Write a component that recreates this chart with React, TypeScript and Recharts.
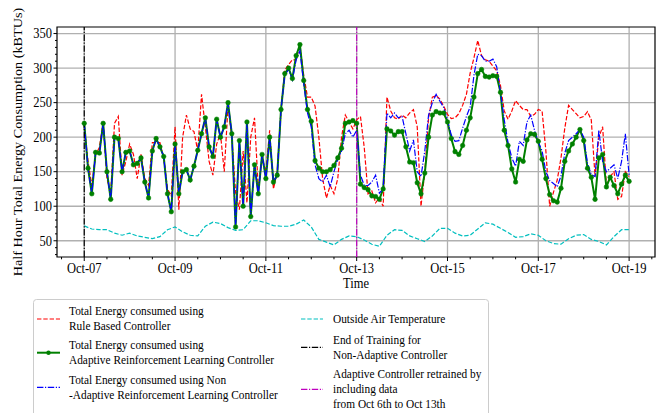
import React from "react";
import {
  LineChart,
  Line,
  XAxis,
  YAxis,
  CartesianGrid,
  ReferenceLine,
  ReferenceArea,
} from "recharts";

const FONT = "Liberation Serif, Tinos, 'Times New Roman', 'Nimbus Roman', 'DejaVu Serif', serif";
const SQUEEZE = 0.88; // the original figure is a little narrower than its text
const LEGEND_SQUEEZE = 0.86;

// two-hourly samples from Oct-07 00:00 to Oct-19 00:00 (kBTUs)
const ruleBased = [
  215, 165, 130, 175, 185, 222, 140, 120, 220, 230, 145, 165, 190, 175, 140, 175,
  140, 130, 192, 192, 192, 170, 125, 115, 215, 95, 200, 232, 212, 208, 180, 262,
  215, 165, 145, 190, 205, 150, 245, 200, 120, 95, 180, 105, 200, 228, 125, 170,
  150, 210, 125, 150, 240, 297, 305, 312, 312, 333, 290, 258, 258, 245, 200, 140,
  112, 130, 118, 140, 200, 232, 222, 212, 225, 230, 185, 118, 122, 105, 112, 100,
  258, 238, 228, 226, 232, 228, 235, 240, 215, 100, 150, 228, 258, 260, 255, 245,
  233, 227, 228, 234, 246, 262, 293, 315, 340, 318, 312, 310, 303, 296, 275, 238,
  226, 238, 253, 246, 240, 240, 230, 233, 240, 238, 180, 100, 120, 138, 170, 213,
  246, 240, 234, 228, 230, 237, 225, 143, 200, 215, 130, 143, 150, 110, 114, 150,
  143,
];

const adaptive = [
  220, 155, 118, 178, 177, 220, 150, 110, 200, 198, 150, 178, 180, 160, 162, 170,
  135, 112, 180, 198, 186, 172, 118, 92, 190, 118, 150, 153, 138, 158, 181, 205,
  228, 186, 172, 226, 200, 215, 250, 205, 70, 195, 100, 222, 85, 160, 118, 175,
  140, 200, 135, 145, 240, 292, 300, 285, 318, 334, 282, 240, 223, 166, 155, 150,
  150, 153, 159, 170, 184, 220, 222, 224, 220, 132, 127, 124, 115, 114, 110, 125,
  212, 209, 203, 208, 208, 186, 164, 163, 134, 118, 148, 200, 232, 237, 235, 235,
  222, 198, 179, 175, 188, 210, 228, 258, 292, 298, 288, 287, 289, 288, 265, 210,
  188, 154, 135, 168, 165, 196, 205, 204, 194, 168, 140, 117, 108, 106, 126, 165,
  180, 190, 200, 211, 195, 155, 142, 110, 170, 175, 128, 142, 130, 118, 132, 145,
  136,
];

const nonAdaptive = [
  220, 155, 118, 178, 177, 220, 150, 110, 200, 198, 150, 178, 180, 160, 162, 170,
  135, 112, 180, 198, 186, 172, 118, 92, 190, 118, 150, 153, 138, 158, 181, 205,
  228, 186, 172, 226, 200, 215, 250, 205, 70, 195, 100, 222, 85, 160, 118, 175,
  140, 200, 135, 145, 240, 290, 298, 283, 312, 325, 278, 235, 215, 160, 140, 135,
  145, 128, 150, 168, 180, 205, 210, 200, 210, 145, 130, 130, 135, 145, 119, 125,
  235, 228, 235, 228, 230, 205, 180, 196, 150, 143, 180, 232, 250, 262, 252, 243,
  225, 203, 194, 195, 213, 230, 244, 290, 320, 318, 310, 310, 313, 302, 265, 225,
  192, 170, 158, 194, 188, 222, 232, 210, 193, 180, 150, 137, 133, 128, 144, 177,
  195, 200, 205, 211, 200, 162, 146, 143, 210, 165, 150, 155, 160, 140, 165, 205,
  145,
];

// four-hourly outside air temperature
const outsideAir = [
  71.5, 67, 66, 66, 61, 58, 61, 57, 55, 53, 56, 66, 70, 63, 58, 57, 71, 77, 75, 69,
  65, 66, 79, 79, 76, 72, 71, 71, 74, 80, 70, 52, 48, 44, 52, 57, 56, 51, 45, 42,
  58, 66, 65, 57, 53, 49, 57, 68, 68, 61, 57, 58, 67, 76, 74, 68, 62, 55, 56, 60,
  58, 50, 46, 45, 53, 58, 59, 52, 49, 44, 56, 66, 66,
];

const X_MAJOR = [0, 2, 4, 6, 8, 10, 12];
const X_LABELS = ["Oct-07", "Oct-09", "Oct-11", "Oct-13", "Oct-15", "Oct-17", "Oct-19"];
const X_TICKS = Array.from({ length: 27 }, (_, k) => -0.5 + k * 0.5);
const Y_MAJOR = [50, 100, 150, 200, 250, 300, 350];
const Y_TICKS = Array.from({ length: 33 }, (_, k) => 30 + k * 10);

const END_OF_TRAINING = 0;
const RETRAINED = 6;

const data = adaptive.map((v, i) => ({
  t: i / 12,
  rule: ruleBased[i],
  adaptive: v,
  nonAdaptive: nonAdaptive[i],
  oat: i % 2 === 0 ? outsideAir[i / 2] : undefined,
}));

const textStyle = { fontFamily: FONT };

const XTick = ({ x, y, payload }: any) => {
  const k = X_MAJOR.indexOf(payload.value);
  return (
    <g>
      <line x1={x} x2={x} y1={y} y2={y + (k >= 0 ? 4 : 2.3)} stroke="#000" strokeWidth={1} />
      {k >= 0 && (
        <text
          transform={`translate(${x},${y + 11}) scale(${SQUEEZE},1)`}
          textAnchor="middle"
          dominantBaseline="central"
          fontSize={14.2}
          style={textStyle}
          fill="#000"
        >
          {X_LABELS[k]}
        </text>
      )}
    </g>
  );
};

const YTick = ({ x, y, payload }: any) => {
  const major = Y_MAJOR.includes(payload.value);
  return (
    <g>
      <line x1={x} x2={x - (major ? 3.5 : 2)} y1={y} y2={y} stroke="#000" strokeWidth={1} />
      {major && (
        <text
          transform={`translate(${x - 5},${y}) scale(${SQUEEZE},1)`}
          textAnchor="end"
          dominantBaseline="central"
          fontSize={14.2}
          style={textStyle}
          fill="#000"
        >
          {payload.value}
        </text>
      )}
    </g>
  );
};

const LEFT_ENTRIES = [
  { color: "#ff0000", dash: "4.4 1.9", marker: false, y: 319, lines: ["Total Energy consumed using", "Rule Based Controller"], ty: [311, 325.5] },
  { color: "#008000", dash: undefined, marker: true, y: 352.7, lines: ["Total Energy consumed using", "Adaptive Reinforcement Learning Controller"], ty: [345, 360] },
  { color: "#0000ff", dash: "6.4 1.6 1.2 1.6", marker: false, y: 387.3, lines: ["Total Energy consumed using Non", "-Adaptive Reinforcement Learning Controller"], ty: [379.5, 394.5] },
];

const RIGHT_ENTRIES = [
  { color: "#00bfbf", dash: "4.4 1.9", y: 319, lines: ["Outside Air Temperature"], ty: [319] },
  { color: "#000000", dash: "6.4 1.6 1.2 1.6", y: 347.3, lines: ["End of Training for", "Non-Adaptive Controller"], ty: [339.5, 354.5] },
  { color: "#bf00bf", dash: "6.4 1.6 1.2 1.6", y: 389.3, lines: ["Adaptive Controller retrained by", "including data", "from Oct 6th to Oct 13th"], ty: [374, 388.7, 403.4] },
];

const Label = ({ x, y, children, size = 13.2 }: any) => (
  <text
    transform={`translate(${x},${y}) scale(${LEGEND_SQUEEZE},1)`}
    dominantBaseline="central"
    fontSize={size}
    style={textStyle}
    fill="#000"
  >
    {children}
  </text>
);

const Overlay = () => (
  <svg
    width={657}
    height={413}
    style={{ position: "absolute", left: 0, top: 0, pointerEvents: "none" }}
  >
    <text
      transform={`translate(18,142) rotate(-90) scale(1,${SQUEEZE})`}
      textAnchor="middle"
      dominantBaseline="central"
      fontSize={14.2}
      style={textStyle}
      fill="#000"
    >
      Half Hour Total Energy Consumption (kBTUs)
    </text>
    <text
      transform={`translate(356,283) scale(${SQUEEZE},1)`}
      textAnchor="middle"
      dominantBaseline="central"
      fontSize={14.2}
      style={textStyle}
      fill="#000"
    >
      Time
    </text>

    <rect x={33.5} y={299.5} width={455} height={130} rx={3} fill="#fff" fillOpacity={0.8} stroke="#cccccc" />
    {LEFT_ENTRIES.map((e) => (
      <g key={e.lines[0] + e.y}>
        <line x1={37} x2={60} y1={e.y} y2={e.y} stroke={e.color} strokeWidth={e.marker ? 2 : 1.2} strokeDasharray={e.dash} />
        {e.marker && <circle cx={48.5} cy={e.y} r={2.2} fill={e.color} />}
        {e.lines.map((l, k) => (
          <Label key={l} x={69} y={e.ty[k]}>{l}</Label>
        ))}
      </g>
    ))}
    {RIGHT_ENTRIES.map((e) => (
      <g key={e.lines[0]}>
        <line x1={301} x2={323} y1={e.y} y2={e.y} stroke={e.color} strokeWidth={1.2} strokeDasharray={e.dash} />
        {e.lines.map((l, k) => (
          <Label key={l} x={333} y={e.ty[k]}>{l}</Label>
        ))}
      </g>
    ))}
  </svg>
);

export default function App() {
  return (
    <div style={{ position: "absolute", left: 0, top: 0, width: 657, height: 413, background: "#fff" }}>
      <LineChart
        width={657}
        height={413}
        data={data}
        margin={{ top: 27, right: 2, left: 0, bottom: 126 }}
      >
        <CartesianGrid
          horizontalValues={Y_MAJOR}
          verticalValues={X_MAJOR}
          stroke="#b0b0b0"
          strokeWidth={1.3}
        />
        <XAxis
          dataKey="t"
          type="number"
          domain={[-0.6, 12.57]}
          ticks={X_TICKS}
          interval={0}
          allowDataOverflow
          axisLine={false}
          tickLine={false}
          tickSize={0}
          tickMargin={0}
          height={30}
          tick={<XTick />}
        />
        <YAxis
          type="number"
          domain={[26.5, 359.5]}
          ticks={Y_TICKS}
          interval={0}
          allowDataOverflow
          axisLine={false}
          tickLine={false}
          tickSize={0}
          tickMargin={0}
          width={57}
          tick={<YTick />}
        />
        <Line
          dataKey="rule"
          stroke="#ff0000"
          strokeWidth={1.2}
          strokeDasharray="4.4 1.9"
          dot={false}
          isAnimationActive={false}
        />
        <Line
          dataKey="adaptive"
          stroke="#008000"
          strokeWidth={2}
          dot={{ r: 2.3, fill: "#008000", stroke: "#008000", strokeWidth: 0.5 }}
          isAnimationActive={false}
        />
        <Line
          dataKey="nonAdaptive"
          stroke="#0000ff"
          strokeWidth={1.2}
          strokeDasharray="6.4 1.6 1.2 1.6"
          dot={false}
          isAnimationActive={false}
        />
        <Line
          dataKey="oat"
          stroke="#00bfbf"
          strokeWidth={1.2}
          strokeDasharray="4.4 1.9"
          dot={false}
          connectNulls
          isAnimationActive={false}
        />
        <ReferenceLine x={END_OF_TRAINING} stroke="#000" strokeWidth={1.2} strokeDasharray="6.4 1.6 1.2 1.6" />
        <ReferenceLine x={RETRAINED} stroke="#bf00bf" strokeWidth={1.2} strokeDasharray="6.4 1.6 1.2 1.6" />
        <ReferenceArea
          x1={-0.6}
          x2={12.57}
          y1={26.5}
          y2={359.5}
          fill="none"
          stroke="#000"
          strokeWidth={1.2}
          ifOverflow="visible"
        />
      </LineChart>
      <Overlay />
    </div>
  );
}
